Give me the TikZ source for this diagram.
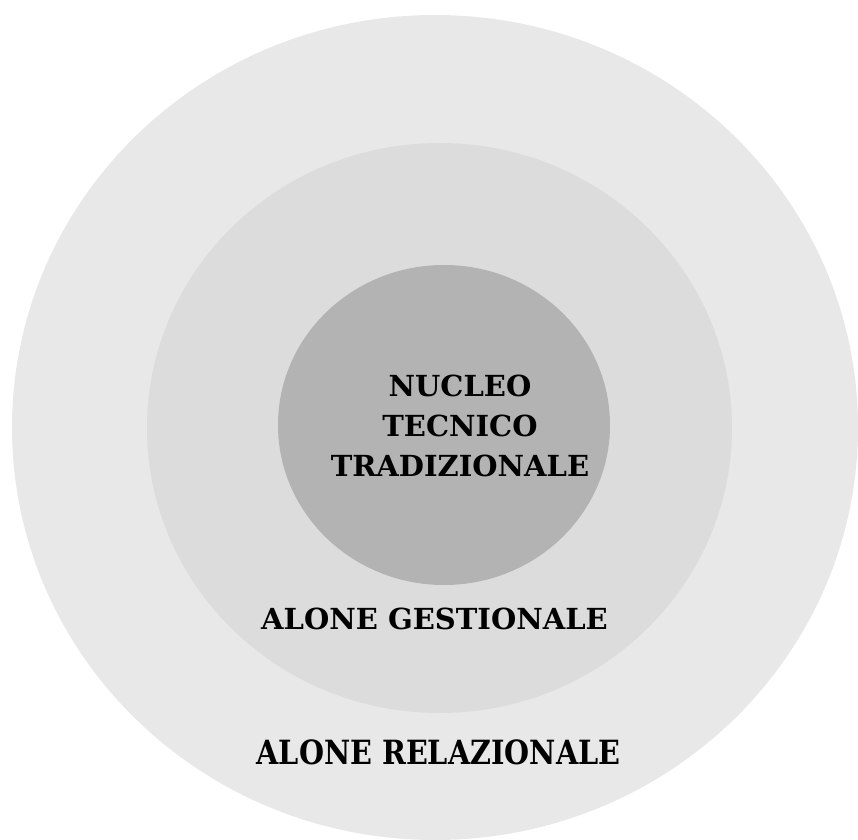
\documentclass[tikz,border=0pt]{standalone}
\usepackage{fontspec}
\setmainfont{DejaVu Serif}
\usepackage{tikz}
\usetikzlibrary{positioning}
\definecolor{outergray}{RGB}{232, 232, 232}
\definecolor{midgray}{RGB}{220, 220, 220}
\definecolor{innergray}{RGB}{179, 179, 179}

\begin{document}
\begin{tikzpicture}[x=0.5pt, y=-0.5pt,
    label/.style={font=\bfseries\fontsize{14.5}{20}\selectfont, align=center, inner sep=0pt}]
                \useasboundingbox (0, 0) rectangle (858, 840);
                % Rings
                \fill[outergray] (435, 427.5) ellipse [x radius=423, y radius=412.5];
                \fill[midgray] (439.5, 428) ellipse [x radius=292.5, y radius=285];
                \fill[innergray] (444, 425) ellipse [x radius=166, y radius=160];

                % Labels
                \node[label] (nucleo) at (460, 426) {NUCLEO\\TECNICO\\TRADIZIONALE};
                \node[label] (gestionale) at (434.5, 619) {ALONE GESTIONALE};
                \node[label, yscale=1.15, xscale=0.99] (relazionale) at (438.5, 752) {ALONE RELAZIONALE};
            \end{tikzpicture}
\end{document}
